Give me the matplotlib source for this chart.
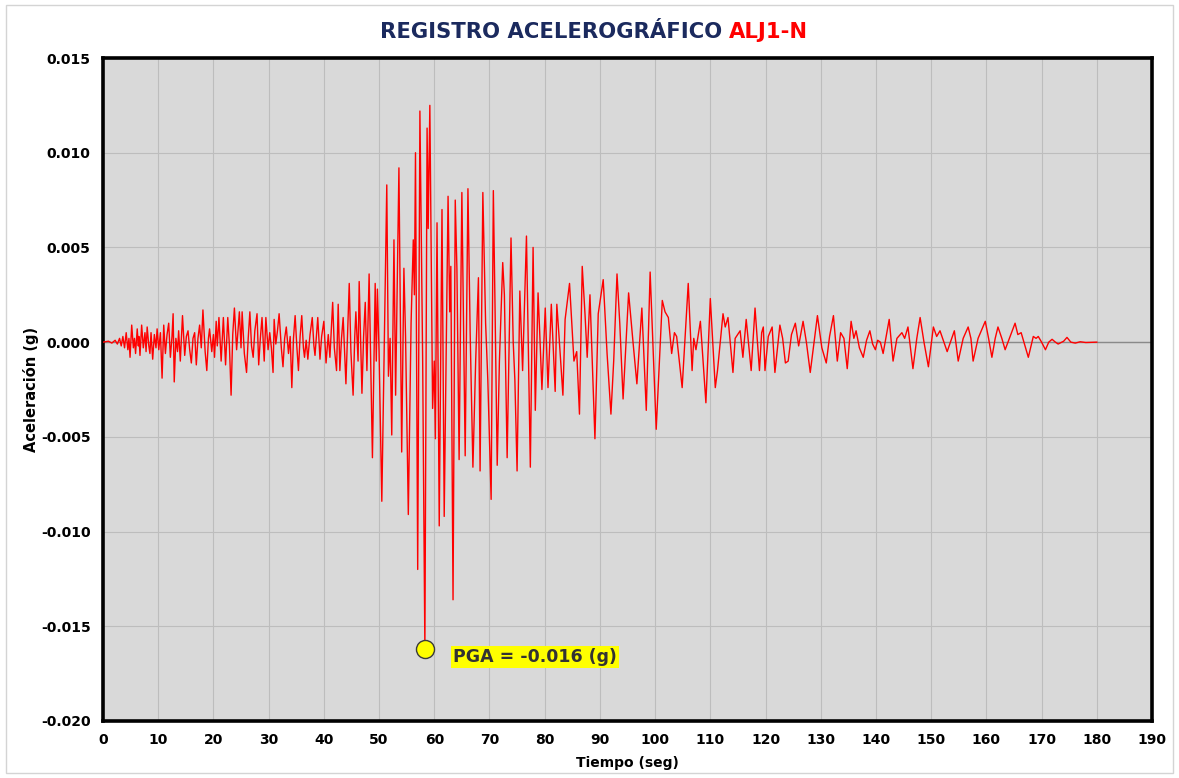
import matplotlib
matplotlib.use("Agg")
import matplotlib.pyplot as plt
import numpy as np
from matplotlib.patches import Rectangle

# Registro ALJ1-N: tiempo (s) y aceleracion (milesimas de g)
# tramo inicial 0-48 s
t_inicio = [0.0, 1.0, 1.6, 2.2, 2.6, 3.0, 3.3, 3.6, 3.9, 4.2,
            4.5, 4.7, 4.9, 5.2, 5.5, 5.7, 5.9, 6.2, 6.4, 6.5,
            6.7, 7.0, 7.3, 7.6, 7.8, 8.0, 8.3, 8.5, 8.7, 9.0,
            9.3, 9.6, 9.8, 10.1, 10.4, 10.7, 11.0, 11.3, 11.6, 11.9,
            12.2, 12.5, 12.7, 12.9, 13.2, 13.5, 13.7, 14.0, 14.4, 14.8,
            15.1, 15.4, 15.7, 16.0, 16.3, 16.6, 16.9, 17.2, 17.5, 17.8,
            18.1, 18.5, 18.8, 19.1, 19.3, 19.7, 20.0, 20.2, 20.5, 20.7,
            21.0, 21.4, 21.8, 22.2, 22.6, 22.9, 23.2, 23.5, 23.8, 24.2,
            24.7, 25.0, 25.2, 25.6, 26.0, 26.3, 26.6, 26.9, 27.2, 27.5,
            27.9, 28.2, 28.5, 28.8, 29.2, 29.5, 29.9, 30.2, 30.5, 30.8,
            31.0, 31.3, 31.6, 31.9, 32.3, 32.6, 32.9, 33.2, 33.6, 33.9,
            34.2, 34.5, 34.8, 35.1, 35.4, 35.7, 36.0, 36.3, 36.5, 36.8,
            37.1, 37.5, 37.9, 38.2, 38.4, 38.7, 38.9, 39.3, 39.6, 40.0,
            40.4, 40.8, 41.1, 41.6, 41.9, 42.3, 42.6, 42.9, 43.2, 43.5,
            44.0, 44.3, 44.6, 44.9, 45.3, 45.6, 45.8, 46.2, 46.4, 46.9,
            47.2, 47.5, 47.8]
a_inicio = [0.0, 0.05, -0.05, 0.1, -0.1, 0.2, -0.2, 0.3, -0.3, 0.5,
            -0.4, 0.2, -0.8, 0.9, -0.3, 0.2, -0.6, 0.7, -0.2, 0.3,
            -0.7, 0.9, -0.3, 0.5, -0.5, 0.8, -0.2, -0.6, 0.5, -0.9,
            0.4, -0.3, 0.7, -0.4, 0.5, -1.9, 0.9, -0.6, 0.4, 1.0,
            -0.8, 0.3, 1.5, -2.1, 0.2, -0.5, 0.6, -1.0, 1.4, -0.7,
            0.3, 0.6, -0.4, -1.1, 0.2, 0.5, -1.2, 0.2, 0.9, -0.3,
            1.7, -0.5, -1.5, 0.2, 0.7, -0.5, 0.4, -0.8, 1.1, -0.2,
            1.3, -1.0, 1.3, -1.2, 1.3, -0.2, -2.8, 0.4, 1.8, -0.4,
            1.6, -0.3, 1.6, -0.6, -1.6, 0.2, 1.6, -0.2, -0.8, 0.6,
            1.5, -1.2, 0.2, 1.3, -1.0, 1.3, -0.4, 0.5, -0.3, -1.6,
            1.2, -0.1, 0.6, 1.5, -0.3, -1.3, 0.2, 0.8, -0.6, 0.3,
            -2.4, 0.2, 1.4, -0.2, -1.5, 0.3, 1.4, -0.3, -0.8, 0.1,
            -0.9, 0.4, 1.3, -0.2, -0.7, 0.5, 1.3, -0.9, 0.3, 1.1,
            -1.1, 0.4, -0.8, 2.1, -0.3, -1.5, 2.0, -1.5, 0.2, 1.3,
            -2.2, 0.5, 3.1, -0.5, -2.8, 0.3, 1.6, -1.0, 3.2, -2.7,
            0.3, 2.1, -1.5]

# fase fuerte 48-80 s
t_fuerte = [48.2, 48.8, 49.3, 49.5, 49.7, 50.0, 50.5, 51.4, 51.7, 52.0,
            52.3, 52.7, 53.0, 53.6, 54.1, 54.5, 54.8, 55.3, 55.8, 56.2,
            56.4, 56.6, 57.0, 57.4, 57.9, 58.3, 58.7, 58.9, 59.2, 59.7,
            60.0, 60.2, 60.5, 60.9, 61.4, 61.8, 62.2, 62.5, 62.8, 63.0,
            63.4, 63.8, 64.1, 64.5, 65.0, 65.6, 66.1, 66.5, 67.0, 67.5,
            68.0, 68.3, 68.8, 69.3, 69.7, 70.3, 70.7, 71.0, 71.4, 71.8,
            72.4, 72.7, 73.2, 73.9, 74.3, 74.6, 75.0, 75.5, 76.0, 76.7,
            77.4, 77.9, 78.3, 78.8, 79.1, 79.5]
a_fuerte = [3.6, -6.1, 3.1, -1.0, 2.8, -0.5, -8.4, 8.3, -1.8, 0.2,
            -4.9, 5.4, -2.8, 9.2, -5.8, 3.9, 0.3, -9.1, 1.0, 5.4,
            2.5, 10.0, -12.0, 12.2, -1.0, -16.2, 11.3, 6.0, 12.5, -3.5,
            -1.0, -5.1, 6.3, -9.7, 7.0, -9.2, 0.5, 7.7, 1.6, 4.0,
            -13.6, 7.5, 3.9, -6.2, 7.9, -6.0, 8.1, 0.5, -6.6, -1.0,
            3.4, -6.8, 7.9, 1.0, -2.0, -8.3, 8.0, 2.0, -6.5, -1.0,
            4.2, 2.5, -6.1, 5.5, 0.0, -2.0, -6.8, 2.7, -1.5, 5.6,
            -6.6, 5.0, -3.6, 2.6, 0.5, -2.5]

# coda 80-180 s
t_coda = [80.1, 80.6, 81.2, 81.9, 82.2, 82.6, 83.3, 83.7, 84.5, 85.3,
          85.8, 86.3, 86.8, 87.3, 87.7, 88.2, 89.1, 89.7, 90.6, 91.3,
          92.0, 92.5, 93.1, 93.6, 94.2, 95.2, 96.0, 96.7, 97.6, 98.4,
          99.1, 100.2, 101.3, 101.8, 102.4, 103.0, 103.5, 103.9, 104.9, 106.0,
          106.7, 107.0, 107.4, 108.2, 109.2, 110.0, 110.9, 111.3, 112.3, 112.7,
          113.2, 114.1, 114.5, 115.4, 115.9, 116.5, 117.4, 118.1, 118.9, 119.3,
          119.6, 119.9, 120.5, 121.2, 121.7, 122.6, 123.1, 123.6, 124.1, 124.7,
          125.4, 126.0, 126.8, 127.4, 128.1, 128.7, 129.4, 130.2, 131.0, 131.6,
          132.3, 133.0, 133.6, 134.2, 134.8, 135.5, 136.0, 136.4, 137.0, 137.7,
          138.3, 138.9, 139.4, 139.9, 140.3, 140.8, 141.3, 142.4, 143.1, 143.8,
          144.7, 145.2, 145.8, 146.7, 147.4, 148.0, 148.7, 149.5, 150.4, 151.0,
          151.6, 152.2, 152.9, 153.5, 154.2, 154.9, 155.8, 156.7, 157.2, 157.6,
          158.5, 159.8, 160.4, 161.0, 161.6, 162.1, 162.8, 163.4, 164.3, 165.2,
          165.7, 166.3, 167.0, 167.6, 168.5, 169.0, 169.4, 170.0, 170.7, 171.3,
          171.9, 172.5, 173.0, 174.0, 174.6, 175.3, 176.1, 177.0, 178.0, 180.0]
a_coda = [1.8, -2.4, 2.0, -2.6, 2.0, 0.3, -2.8, 1.2, 3.1, -1.0,
          -0.5, -3.8, 4.0, 1.5, -0.8, 2.5, -5.1, 1.5, 3.3, -0.6,
          -3.8, -1.0, 3.6, 1.0, -3.0, 2.6, 0.0, -2.2, 1.8, -3.6,
          3.7, -4.6, 2.2, 1.6, 1.3, -0.6, 0.5, 0.3, -2.4, 3.1,
          -1.5, 0.2, -0.4, 1.1, -3.2, 2.3, -2.4, -1.5, 1.5, 0.8,
          1.3, -1.6, 0.2, 0.6, -0.8, 1.2, -1.5, 1.8, -1.5, 0.5,
          0.8, -1.5, 0.3, 0.8, -1.6, 0.9, 0.2, -1.1, -1.0, 0.4,
          1.0, -0.2, 1.1, 0.0, -1.6, -0.2, 1.4, -0.3, -1.1, 0.3,
          1.4, -1.0, 0.5, 0.2, -1.4, 1.1, 0.2, 0.6, -0.3, -0.8,
          0.1, 0.6, -0.1, -0.4, 0.1, 0.0, -0.6, 1.2, -1.0, 0.2,
          0.5, 0.2, 0.8, -1.4, 0.2, 1.3, 0.0, -1.3, 0.8, 0.3,
          0.6, 0.1, -0.5, 0.0, 0.6, -1.0, 0.2, 0.8, 0.2, -1.0,
          0.2, 1.1, 0.2, -0.8, 0.2, 0.8, 0.2, -0.4, 0.3, 1.0,
          0.4, 0.5, -0.2, -0.8, 0.3, 0.2, 0.3, 0.0, -0.4, 0.0,
          0.15, 0.0, -0.1, 0.05, 0.25, 0.0, -0.05, 0.02, -0.02, 0.0]

pga_t = 58.3
pga_g = -0.0162
pga_label = "PGA = -0.016 (g)"

x_ticks = list(range(0, 191, 10))
y_ticks = [-0.020, -0.015, -0.010, -0.005, 0.000, 0.005, 0.010, 0.015]

tiempo = np.array(t_inicio + t_fuerte + t_coda)
acel = np.array(a_inicio + a_fuerte + a_coda) / 1000.0  # mg -> g
assert len(tiempo) == len(acel)

fig = plt.figure(figsize=(11.79, 7.78), dpi=100)
ax = fig.add_axes([103 / 1179, 1 - 721 / 778, (1152 - 103) / 1179, (721 - 58) / 778])
ax.set_facecolor("#D9D9D9")

ax.set_xlim(0, 190)
ax.set_ylim(-0.020, 0.015)
ax.set_xticks(x_ticks)
ax.set_yticks(y_ticks)
ax.set_yticklabels([f"{v:.3f}" for v in y_ticks])
ax.grid(True, color="#BDBDBD", linewidth=0.8, zorder=0)
ax.set_axisbelow(True)
ax.axhline(0, color="#8A8A8A", linewidth=1.0, zorder=1)

ax.plot(tiempo, acel, color="#FF0000", linewidth=1.0, zorder=3)

# marcador del PGA
ax.plot([pga_t], [pga_g], "o", markersize=13, markerfacecolor="#FFFF00",
        markeredgecolor="#3A3A3A", markeredgewidth=1.0, zorder=5)
ax.text(63.4, -0.0166, pga_label, fontsize=12.5, fontweight="bold", color="#333333",
        va="center", ha="left", zorder=6,
        bbox=dict(boxstyle="square,pad=0.12", facecolor="#FFFF00", edgecolor="none"))

for s in ax.spines.values():
    s.set_linewidth(2.6)
    s.set_color("black")

ax.tick_params(length=0, labelsize=10, pad=9, colors="black")
for lab in ax.get_xticklabels() + ax.get_yticklabels():
    lab.set_fontweight("bold")

ax.set_xlabel("Tiempo (seg)", fontsize=10, fontweight="bold", labelpad=6)
ax.set_ylabel("Aceleración (g)", fontsize=10.5, fontweight="bold", labelpad=1)

# titulo en dos colores
t1 = fig.text(722 / 1179, 1 - 32 / 778, "REGISTRO ACELEROGRÁFICO", fontsize=15.2,
              fontweight="bold", color="#1B2A5E", ha="right", va="center")
ax.annotate("ALJ1-N", xy=(1, 0), xycoords=t1, xytext=(5, 0), textcoords="offset points",
            fontsize=15.2, fontweight="bold", color="#FF0000", ha="left", va="bottom")

# marco exterior
fig.patches.append(Rectangle((0.005, 0.006), 0.99, 0.988, transform=fig.transFigure,
                             fill=False, edgecolor="#D4D4D4", linewidth=1.0))

fig.savefig("out.png", dpi=100)
